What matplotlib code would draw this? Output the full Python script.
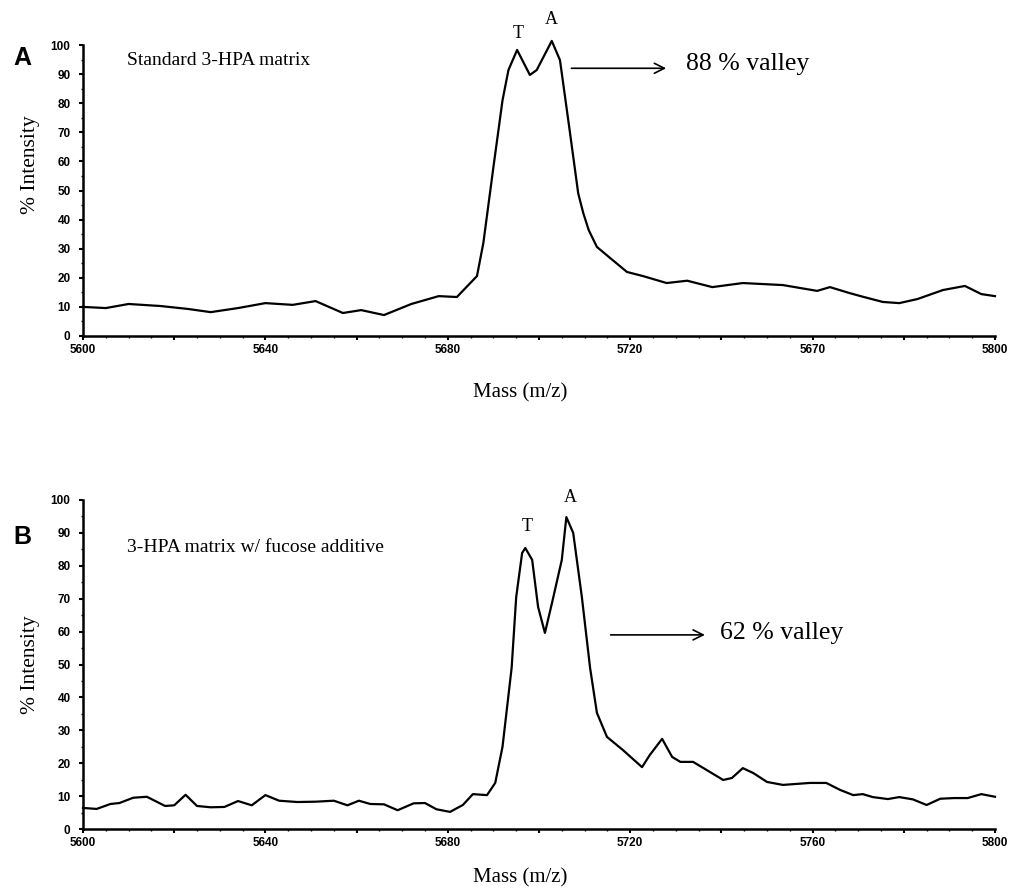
import matplotlib.pyplot as plt
from matplotlib.ticker import MultipleLocator

# panel A: standard 3-HPA matrix
a_mass = [5600, 5605, 5610, 5617, 5623, 5628, 5634, 5640, 5646, 5651,
          5657, 5661, 5666, 5672, 5678, 5682, 5686.4, 5687.8, 5690, 5692,
          5693.3, 5695.2, 5698, 5699.5, 5702.8, 5704.6, 5706.8, 5708.6, 5709.7, 5710.9,
          5712.7, 5715.6, 5719.3, 5722.8, 5728, 5732.5, 5738, 5744.7, 5753.5, 5761,
          5763.8, 5768, 5771, 5775.4, 5779, 5783, 5788.6, 5793.4, 5797, 5800]
a_int = [10.0, 9.6, 11.0, 10.3, 9.3, 8.2, 9.6, 11.3, 10.7, 12.0,
         7.9, 8.9, 7.2, 11.0, 13.7, 13.4, 20.6, 32, 58, 81,
         91.4, 98.3, 89.7, 91.4, 101.4, 94.8, 69.8, 49, 42.3, 36.4,
         30.6, 26.8, 22, 20.6, 18.2, 19, 16.8, 18.2, 17.5, 15.5,
         16.8, 14.8, 13.5, 11.7, 11.3, 12.7, 15.8, 17.2, 14.4, 13.7]

# panel B: 3-HPA matrix with fucose additive
b_mass = [5600, 5603, 5606, 5608, 5611, 5614, 5618, 5620, 5622.5, 5625,
          5628, 5631, 5634, 5637, 5640, 5643, 5647, 5651, 5655, 5658,
          5660.5, 5663, 5666, 5669, 5672.5, 5675, 5677.5, 5680.5, 5683.3, 5685.5,
          5688.6, 5690.4, 5692, 5694, 5695, 5696.3, 5697, 5698.5, 5699.8, 5701.3,
          5703, 5705, 5706, 5707.5, 5709.4, 5711.2, 5712.7, 5714.9, 5718.4, 5722.6,
          5724.3, 5727, 5729.2, 5731, 5733.8, 5736.8, 5740.4, 5742.3, 5744.7, 5747,
          5750, 5753.5, 5759.4, 5763, 5766, 5768.9, 5771, 5773.2, 5776.5, 5779,
          5782, 5785, 5788, 5791, 5794, 5797, 5800]
b_int = [6.4, 6.1, 7.6, 7.9, 9.5, 9.8, 7.0, 7.2, 10.4, 7.0,
         6.6, 6.7, 8.5, 7.2, 10.3, 8.6, 8.2, 8.3, 8.6, 7.2,
         8.6, 7.6, 7.5, 5.7, 7.8, 7.9, 6.0, 5.2, 7.3, 10.6,
         10.3, 14, 25, 49, 70.5, 83.9, 85.4, 81.8, 67.5, 59.6,
         69.6, 81.8, 94.8, 90, 70.5, 49, 35.3, 28, 24, 18.8,
         22.5, 27.4, 21.9, 20.4, 20.4, 17.9, 14.9, 15.5, 18.5, 17,
         14.3, 13.4, 14, 14, 11.9, 10.3, 10.6, 9.7, 9.1, 9.7,
         9.0, 7.3, 9.2, 9.4, 9.4, 10.6, 9.8]

tick_pos = list(range(5600, 5801, 20))
ticks_a = ["5600", "", "5640", "", "5680", "", "5720", "", "5670", "", "5800"]
ticks_b = ["5600", "", "5640", "", "5680", "", "5720", "", "5760", "", "5800"]

W, H = 1009, 891
serif = "Liberation Serif"
sans = "Liberation Sans"

fig = plt.figure(figsize=(W / 100, H / 100), dpi=100)


def px(x, y):
    return x / W, 1 - y / H


def setup(ax, labels):
    ax.set_xlim(5600, 5800)
    ax.set_ylim(0, 100)
    for s in ("top", "right"):
        ax.spines[s].set_visible(False)
    for s in ("left", "bottom"):
        ax.spines[s].set_linewidth(1.8)
    ax.set_xticks(tick_pos, labels)
    ax.xaxis.set_minor_locator(MultipleLocator(5))
    ax.yaxis.set_major_locator(MultipleLocator(10))
    ax.yaxis.set_minor_locator(MultipleLocator(5))
    ax.tick_params(which="major", length=3, width=1.5, labelsize=8.5)
    ax.tick_params(axis="y", pad=6)
    ax.tick_params(axis="x", pad=3)
    ax.tick_params(which="minor", length=1.5, width=1)
    for t in ax.get_xticklabels() + ax.get_yticklabels():
        t.set_fontfamily(sans)
        t.set_fontweight("bold")


# panel A
axA = fig.add_axes([83 / W, 1 - 336 / H, 912 / W, 291 / H])
axA.plot(a_mass, a_int, color="black", lw=1.6, clip_on=False)
setup(axA, ticks_a)
axA.text(5609.6, 94.8, "Standard 3-HPA matrix", family=serif, fontsize=14, va="center")
axA.text(5695.4, 104, "T", family=serif, fontsize=13, ha="center", va="center")
axA.text(5702.6, 108.6, "A", family=serif, fontsize=13, ha="center", va="center")
axA.annotate("", xy=(5728.5, 92), xytext=(5706.5, 92),
             arrowprops=dict(arrowstyle="->", lw=1.2, color="black", mutation_scale=18))
axA.text(5732.2, 93.5, "88 % valley", family=serif, fontsize=18.5, va="center")

# panel B
axB = fig.add_axes([83 / W, 1 - 829 / H, 912 / W, 329 / H])
axB.plot(b_mass, b_int, color="black", lw=1.6, clip_on=False)
setup(axB, ticks_b)
axB.text(5609.6, 85.7, "3-HPA matrix w/ fucose additive", family=serif, fontsize=14, va="center")
axB.text(5697.4, 91.8, "T", family=serif, fontsize=13, ha="center", va="center")
axB.text(5706.8, 100.9, "A", family=serif, fontsize=13, ha="center", va="center")
axB.annotate("", xy=(5737, 59), xytext=(5715.1, 59),
             arrowprops=dict(arrowstyle="->", lw=1.2, color="black", mutation_scale=18))
axB.text(5739.7, 59.5, "62 % valley", family=serif, fontsize=18.5, va="center")

# panel letters and axis titles
fig.text(*px(22, 58), "A", family=sans, fontweight="bold", fontsize=18, ha="center", va="center")
fig.text(*px(22, 537), "B", family=sans, fontweight="bold", fontsize=18, ha="center", va="center")
fig.text(*px(30, 165), "% Intensity", family=serif, fontsize=15.5, rotation=90, ha="center", va="center")
fig.text(*px(30, 665), "% Intensity", family=serif, fontsize=15.5, rotation=90, ha="center", va="center")
fig.text(*px(520, 393), "Mass (m/z)", family=serif, fontsize=15, ha="center", va="center")
fig.text(*px(520, 878), "Mass (m/z)", family=serif, fontsize=15, ha="center", va="center")

fig.savefig("out.png", dpi=100)
